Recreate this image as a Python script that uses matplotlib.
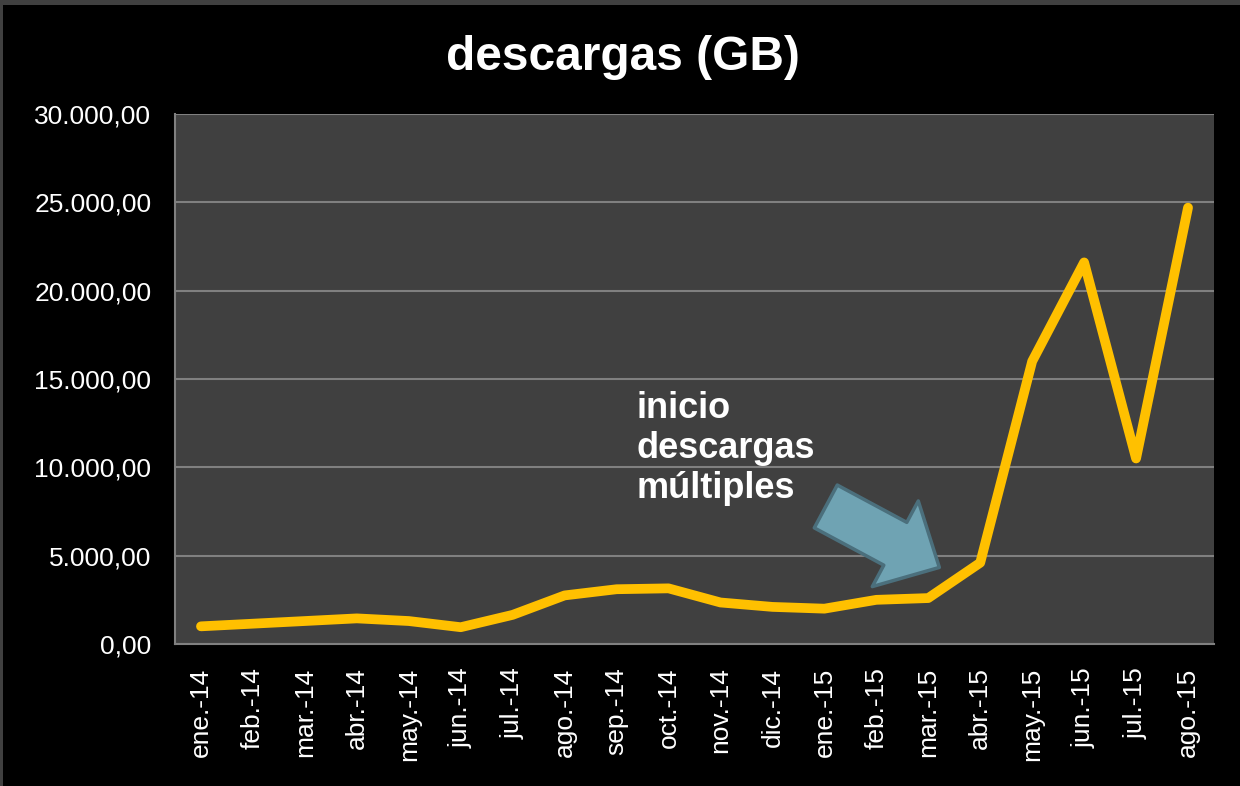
import matplotlib
matplotlib.use("Agg")
import matplotlib.pyplot as plt
from matplotlib.patches import FancyArrowPatch, Rectangle
from matplotlib.ticker import FuncFormatter, MultipleLocator

plt.rcParams["font.family"] = ["Liberation Sans", "DejaVu Sans"]

months = ["ene.-14", "feb.-14", "mar.-14", "abr.-14", "may.-14", "jun.-14",
          "jul.-14", "ago.-14", "sep.-14", "oct.-14", "nov.-14", "dic.-14",
          "ene.-15", "feb.-15", "mar.-15", "abr.-15", "may.-15", "jun.-15",
          "jul.-15", "ago.-15"]
descargas = [1000, 1150, 1300, 1450, 1300, 950, 1650, 2750, 3100, 3150,
             2350, 2100, 2000, 2500, 2600, 4600, 16000, 21600, 10500, 24700]


def es_fmt(v, pos):
    s = f"{v:,.2f}"
    return s.replace(",", "X").replace(".", ",").replace("X", ".")


fig = plt.figure(figsize=(12.4, 7.86), dpi=100, facecolor="#404040")
# black chart area inside the gray frame
fig.patches.append(Rectangle((3 / 1240, 0), 1 - 3 / 1240, 1 - 5 / 786,
                             transform=fig.transFigure, facecolor="black",
                             edgecolor="none", zorder=-10))

ax = fig.add_axes([175 / 1240, 142 / 786, 1039 / 1240, 530 / 786])
ax.set_facecolor("#404040")

x = range(len(months))
ax.plot(x, descargas, color="#FFC000", linewidth=7,
        solid_capstyle="round", solid_joinstyle="round", zorder=3)

ax.set_xlim(-0.5, len(months) - 0.5)
ax.set_ylim(0, 30000)
ax.yaxis.set_major_locator(MultipleLocator(5000))
ax.yaxis.set_major_formatter(FuncFormatter(es_fmt))
ax.set_xticks(list(x))
ax.set_xticklabels(months, rotation=90)
ax.grid(axis="y", color="#808080", linewidth=1.5, zorder=1)
ax.set_axisbelow(True)

for side in ["top", "right"]:
    ax.spines[side].set_visible(False)
for side in ["left", "bottom"]:
    ax.spines[side].set_color("#808080")
    ax.spines[side].set_linewidth(1.5)

ax.tick_params(axis="both", length=0, colors="white", labelsize=19)
ax.tick_params(axis="y", pad=17)
ax.tick_params(axis="x", pad=17)

fig.text(0.502, 0.927, "descargas (GB)", color="white", fontsize=34.5,
         fontweight="bold", ha="center", va="center")

ax.text(0.444, 0.478, "inicio\ndescargas\nmúltiples", transform=ax.transAxes,
        color="white", fontsize=26, fontweight="bold", ha="left", va="top",
        linespacing=1.2)

arrow = FancyArrowPatch((0.624, 0.262), (0.738, 0.142),
                        transform=ax.transAxes,
                        arrowstyle="simple,head_length=3.6,head_width=7.0,tail_width=3.5",
                        mutation_scale=10, facecolor="#6FA3B3",
                        edgecolor="#4B6F7C", linewidth=2.5, zorder=4)
ax.add_patch(arrow)

fig.savefig("out.png", dpi=100, facecolor=fig.get_facecolor())
